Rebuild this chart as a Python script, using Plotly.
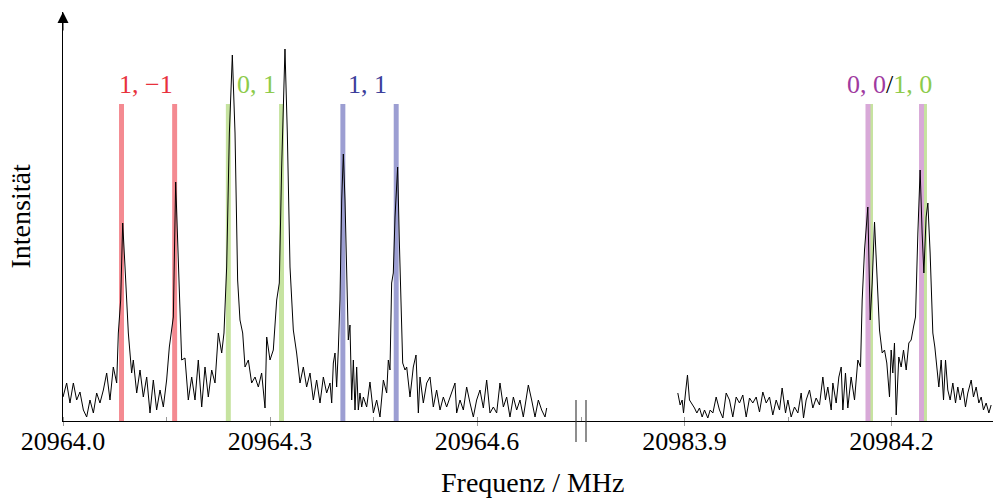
import plotly.graph_objects as go

# ---------------------------------------------------------------------------
# Spectrum data (frequency offsets in MHz from the segment base, intensity a.u.)
# ---------------------------------------------------------------------------
LEFT_BASE = 20964.0
RIGHT_BASE = 20983.9

left_offset = [
    0.0000, 0.0053, 0.0101, 0.0150, 0.0198, 0.0246, 0.0295, 0.0343, 0.0391, 0.0440,
    0.0488, 0.0536, 0.0585, 0.0633, 0.0681, 0.0729, 0.0778, 0.0802, 0.0836, 0.0865,
    0.0899, 0.0947, 0.0995, 0.1019, 0.1068, 0.1116, 0.1164, 0.1213, 0.1261, 0.1309,
    0.1357, 0.1406, 0.1454, 0.1502, 0.1541, 0.1575, 0.1599, 0.1633, 0.1671, 0.1720,
    0.1768, 0.1816, 0.1865, 0.1913, 0.1961, 0.2010, 0.2058, 0.2106, 0.2155, 0.2203,
    0.2251, 0.2300, 0.2333, 0.2372, 0.2411, 0.2454, 0.2493, 0.2531, 0.2565, 0.2604,
    0.2638, 0.2686, 0.2734, 0.2783, 0.2831, 0.2879, 0.2928, 0.2952, 0.3000, 0.3048,
    0.3097, 0.3135, 0.3169, 0.3217, 0.3251, 0.3290, 0.3338, 0.3386, 0.3435, 0.3483,
    0.3531, 0.3580, 0.3628, 0.3676, 0.3725, 0.3773, 0.3821, 0.3870, 0.3894, 0.3918,
    0.3942, 0.3966, 0.3990, 0.4014, 0.4039, 0.4063, 0.4087, 0.4111, 0.4135, 0.4159,
    0.4184, 0.4208, 0.4232, 0.4256, 0.4280, 0.4304, 0.4329, 0.4353, 0.4401, 0.4449,
    0.4498, 0.4546, 0.4594, 0.4643, 0.4691, 0.4715, 0.4739, 0.4763, 0.4787, 0.4812,
    0.4850, 0.4874, 0.4899, 0.4923, 0.4957, 0.4981, 0.5029, 0.5077, 0.5116, 0.5150,
    0.5174, 0.5222, 0.5271, 0.5319, 0.5367, 0.5415, 0.5464, 0.5512, 0.5560, 0.5609,
    0.5681, 0.5705, 0.5754, 0.5802, 0.5850, 0.5899, 0.5947, 0.5995, 0.6043, 0.6092,
    0.6140, 0.6188, 0.6237, 0.6285, 0.6333, 0.6382, 0.6430, 0.6478, 0.6527, 0.6575,
    0.6623, 0.6671, 0.6744, 0.6792, 0.6841, 0.6889, 0.6937, 0.6986, 0.7010,
]
left_intensity = [
    24, 38, 18, 38, 21, 29, 11, 4, 21, 8,
    28, 18, 31, 48, 21, 54, 38, 88, 121, 198,
    154, 88, 48, 61, 28, 51, 24, 44, 8, 41,
    11, 31, 14, 41, 74, 94, 104, 239, 154, 61,
    63, 21, 44, 21, 61, 14, 54, 24, 51, 38,
    88, 68, 88, 154, 288, 366, 288, 141, 101, 88,
    54, 61, 38, 44, 34, 48, 13, 84, 61, 71,
    121, 138, 254, 372, 288, 154, 91, 68, 38, 54,
    34, 48, 21, 41, 18, 44, 28, 38, 18, 58,
    68, 34, 71, 121, 221, 267, 221, 138, 81, 96,
    21, 61, 11, 54, 11, 28, 14, 24, 14, 39,
    8, 21, 4, 41, 28, 61, 51, 138, 148, 204,
    254, 181, 121, 58, 51, 54, 24, 54, 66, 8,
    44, 18, 38, 44, 14, 31, 11, 24, 14, 24,
    38, 8, 21, 11, 34, 18, 4, 21, 31, 13,
    41, 8, 14, 8, 38, 14, 24, 4, 24, 11,
    21, 4, 36, 21, 4, 21, 11, 4, 13,
]

right_offset = [
    -0.0097, -0.0063, -0.0034, -0.0014, 0.0014, 0.0043, 0.0072, 0.0101, 0.0145, 0.0179,
    0.0217, 0.0256, 0.0290, 0.0338, 0.0372, 0.0411, 0.0459, 0.0507, 0.0556, 0.0604,
    0.0652, 0.0700, 0.0749, 0.0797, 0.0845, 0.0894, 0.0942, 0.0990, 0.1039, 0.1087,
    0.1135, 0.1184, 0.1232, 0.1280, 0.1329, 0.1377, 0.1415, 0.1464, 0.1498, 0.1546,
    0.1594, 0.1643, 0.1691, 0.1725, 0.1763, 0.1812, 0.1860, 0.1908, 0.1957, 0.2005,
    0.2043, 0.2077, 0.2126, 0.2150, 0.2198, 0.2237, 0.2271, 0.2295, 0.2333, 0.2367,
    0.2415, 0.2464, 0.2512, 0.2551, 0.2575, 0.2609, 0.2657, 0.2691, 0.2720, 0.2754,
    0.2787, 0.2826, 0.2865, 0.2899, 0.2932, 0.2971, 0.2995, 0.3019, 0.3043, 0.3068,
    0.3106, 0.3140, 0.3174, 0.3213, 0.3251, 0.3285, 0.3319, 0.3348, 0.3382, 0.3415,
    0.3444, 0.3469, 0.3502, 0.3527, 0.3560, 0.3599, 0.3628, 0.3657, 0.3686, 0.3720,
    0.3754, 0.3783, 0.3816, 0.3850, 0.3889, 0.3928, 0.3961, 0.3995, 0.4034, 0.4072,
    0.4106, 0.4155, 0.4188, 0.4227, 0.4266, 0.4300, 0.4333, 0.4372, 0.4411, 0.4444,
]
right_intensity = [
    28, 16, 21, 8, 28, 46, 21, 18, 13, 8,
    13, 4, 11, 3, 11, 8, 24, 11, 3, 28,
    21, 4, 24, 18, 26, 4, 23, 18, 24, 9,
    29, 18, 24, 6, 21, 11, 33, 8, 21, 4,
    14, 8, 28, 3, 21, 31, 13, 23, 16, 44,
    21, 34, 11, 38, 18, 44, 54, 11, 48, 13,
    44, 21, 61, 54, 121, 171, 214, 101, 138, 199,
    154, 91, 68, 71, 58, 24, 71, 48, 78, 6,
    64, 54, 71, 51, 78, 81, 94, 104, 188, 251,
    188, 148, 204, 218, 168, 88, 74, 54, 34, 61,
    21, 61, 31, 21, 38, 18, 34, 21, 33, 14,
    28, 41, 24, 34, 18, 24, 11, 18, 8, 16,
]

# Assigned transition frequencies (MHz) and stick height
red_lines = [20964.0848, 20964.1618]
green_lines_left = [20964.2396, 20964.3167]
blue_lines = [20964.4056, 20964.4829]
green_lines_right = [20984.1696, 20984.2478]
purple_lines = [20984.1659, 20984.2435]
STICK_HEIGHT = 317

# Label texts and their frequencies
label_text = ["1, \u22121", "0, 1", "1, 1", "0, 0/1, 0"]
label_freq = [20964.121, 20964.280, 20964.442, 20984.197]

# Break-axis ticks
left_ticks = [20964.0, 20964.15, 20964.3, 20964.45, 20964.6]
left_ticktext = ["20964.0", "", "20964.3", "", "20964.6"]
right_ticks = [20983.75, 20983.9, 20984.05, 20984.2]
right_ticktext = ["", "20983.9", "", "20984.2"]

# ---------------------------------------------------------------------------
RED_BAR, RED_TXT = "#f48a91", "#e8313c"
GREEN_BAR, GREEN_TXT = "#c6e3a0", "#8dcb4a"
BLUE_BAR, BLUE_TXT = "#9c9ed2", "#3b3d9b"
PURPLE_BAR, PURPLE_TXT = "#d8a9d8", "#a03aa0"
FONT = "'Liberation Serif', 'DejaVu Serif', serif"
STICK_W = 0.0072

fig = go.Figure()


def sticks(freqs, color, axis):
    fig.add_trace(go.Bar(
        x=freqs, y=[STICK_HEIGHT] * len(freqs), width=STICK_W,
        marker=dict(color=color, line=dict(width=0)),
        xaxis=axis, yaxis="y", hoverinfo="skip",
    ))


sticks(red_lines, RED_BAR, "x")
sticks(green_lines_left, GREEN_BAR, "x")
sticks(blue_lines, BLUE_BAR, "x")
sticks(green_lines_right, GREEN_BAR, "x2")
sticks(purple_lines, PURPLE_BAR, "x2")

fig.add_trace(go.Scatter(
    x=[LEFT_BASE + o for o in left_offset], y=left_intensity,
    mode="lines", line=dict(color="black", width=1), xaxis="x", yaxis="y",
))
fig.add_trace(go.Scatter(
    x=[RIGHT_BASE + o for o in right_offset], y=right_intensity,
    mode="lines", line=dict(color="black", width=1), xaxis="x2", yaxis="y",
))

# Stick group labels
label_html = [
    f"<span style='color:{RED_TXT}'>{label_text[0]}</span>",
    f"<span style='color:{GREEN_TXT}'>{label_text[1]}</span>",
    f"<span style='color:{BLUE_TXT}'>{label_text[2]}</span>",
    f"<span style='color:{PURPLE_TXT}'>0, 0</span>/<span style='color:{GREEN_TXT}'>1, 0</span>",
]
label_axes = ["x", "x", "x", "x2"]
for txt, f, ax in zip(label_html, label_freq, label_axes):
    fig.add_annotation(x=f, y=337, xref=ax, yref="y", text=txt, showarrow=False,
                       xanchor="center", yanchor="middle",
                       font=dict(family=FONT, size=26, color="black"))

W, H = 993, 498
L, R, T, B = 63, 0, 12, 77
plot_w = W - L - R
plot_h = H - T - B
split = 518 / plot_w
px_per_mhz = 690

axis_common = dict(
    showline=True, linecolor="black", linewidth=1, showgrid=False, zeroline=False,
    ticks="outside", ticklen=4, tickwidth=1, tickcolor="#9a9a9a",
    tickfont=dict(family=FONT, size=26, color="black"),
    ticklabelstandoff=-7,
    fixedrange=True,
)

fig.update_layout(
    width=W, height=H, margin=dict(l=L, r=R, t=T, b=B),
    plot_bgcolor="white", paper_bgcolor="white", showlegend=False,
    barmode="overlay",
    xaxis=dict(domain=[0, split], range=[LEFT_BASE, LEFT_BASE + 518 / px_per_mhz],
               tickmode="array", tickvals=left_ticks, ticktext=left_ticktext,
               minor=dict(ticks="inside", ticklen=4, tickwidth=1, tickcolor="#9a9a9a",
                          tickmode="array", tickvals=left_ticks),
               **axis_common),
    xaxis2=dict(domain=[split, 1], anchor="y",
                range=[20983.75, 20983.75 + 412 / px_per_mhz],
                tickmode="array", tickvals=right_ticks, ticktext=right_ticktext,
                minor=dict(ticks="inside", ticklen=4, tickwidth=1, tickcolor="#9a9a9a",
                           tickmode="array", tickvals=right_ticks),
                **axis_common),
    yaxis=dict(range=[0, plot_h], showline=True, linecolor="black", linewidth=1,
               showticklabels=False, ticks="", showgrid=False, zeroline=False,
               fixedrange=True),
)

# Arrowhead on the intensity axis
fig.add_annotation(x=0, y=1, xref="paper", yref="paper", text="", showarrow=True,
                   ax=0, ay=20, arrowhead=2, arrowsize=2.2, arrowwidth=1,
                   arrowcolor="black")

# Axis break marks
for px in (576, 586):
    fig.add_shape(type="line", xref="paper", yref="paper",
                  x0=(px - L) / plot_w, x1=(px - L) / plot_w,
                  y0=-21 / plot_h, y1=21 / plot_h,
                  line=dict(color="#444444", width=1.2))

# Axis titles
fig.add_annotation(x=(533 - L) / plot_w, y=-62 / plot_h, xref="paper", yref="paper",
                   text="Frequenz / MHz", showarrow=False, xanchor="center",
                   yanchor="middle", font=dict(family=FONT, size=28, color="black"))
fig.add_annotation(x=0, y=0.5, xref="paper", yref="paper", xshift=-43,
                   text="Intensität", textangle=-90, showarrow=False,
                   xanchor="center", yanchor="middle",
                   font=dict(family=FONT, size=28, color="black"))

fig.write_html("out.html")
